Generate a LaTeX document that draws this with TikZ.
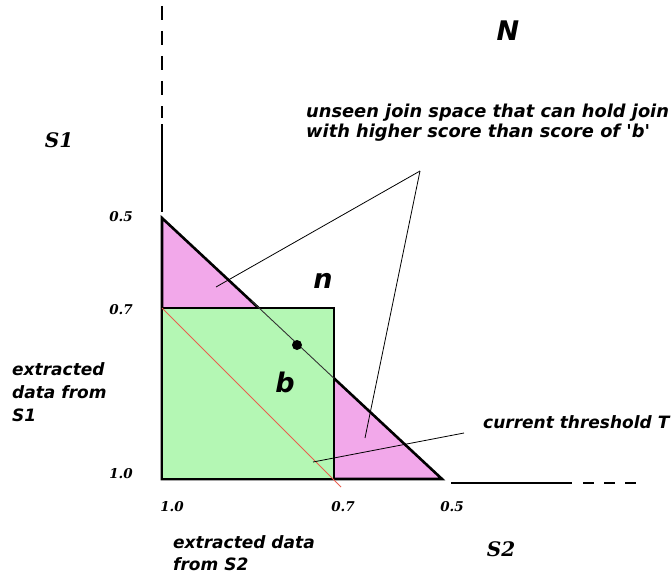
\documentclass[tikz,border=0pt]{standalone}
\usepackage{fontspec}
\setmainfont{DejaVu Sans}[Ligatures=TeXOff]
\newfontfamily\serifbi{DejaVu Serif}
\definecolor{pinkfill}{RGB}{242,168,234}
\definecolor{greenfill}{RGB}{180,247,180}
\definecolor{redline}{RGB}{232,96,80}
\tikzset{
  lbl/.style={font=\fontsize{17}{20}\selectfont\bfseries\itshape, inner sep=0pt, align=left, anchor=west},
  big/.style={font=\fontsize{27}{30}\selectfont\bfseries\itshape, inner sep=0pt},
  axlbl/.style={font=\fontsize{20}{22}\selectfont\serifbi\bfseries\itshape, inner sep=0pt},
  num/.style={font=\fontsize{13.5}{15}\selectfont\serifbi\bfseries\itshape, inner sep=0pt},
  callout/.style={line width=0.8pt, black},
}
\begin{document}
\begin{tikzpicture}[x=1pt,y=-1pt]
\useasboundingbox (0,0) rectangle (672,578);
% key points
\coordinate (T) at (162,218);
\coordinate (O) at (162,479);
\coordinate (R) at (442,479);
\coordinate (Q1) at (162,308);
\coordinate (Q2) at (334,308);
\coordinate (Q3) at (334,479);
\coordinate (Hin) at (251.6,301);
\coordinate (Hout) at (334,378.3);
\coordinate (RedEnd) at (341,487);
% axes
\draw[line width=1.3pt, dash pattern=on 14pt off 11pt] (162,6) coordinate (Vtop) -- (162,118) coordinate (Vmid);
\draw[line width=1.3pt] (162,124) coordinate (Vs) -- (162,212) coordinate (Ve);
\draw[line width=1.3pt] (451,483) coordinate (Hs) -- (572,483) coordinate (He);
\draw[line width=1.3pt, dash pattern=on 11pt off 10pt] (583,483) coordinate (Hd) -- (643,483) coordinate (Hdend);
% triangle
\fill[pinkfill] (T) -- (O) -- (R) -- cycle;
\draw[line width=2.6pt, line join=miter] (T) -- (O) -- (R) -- cycle;
% square
\fill[greenfill] (Q1) rectangle (Q3);
\draw[line width=1.1pt] (O) -- (Q1) -- (Q2) -- (Q3);
\draw[line width=1.1pt] (O) -- (Q3);
\draw[line width=0.9pt, black!80] (Hin) -- (Hout);
% red threshold line
\draw[redline, line width=0.9pt] (Q1) -- (RedEnd);
% dot
\fill (297,345) circle (5pt) coordinate (dot);
\node[big] (b) at (285,382) {b};
\node[big] (n) at (323,281) {n};
\node[big] (N) at (508,31) {N};
% axis labels
\node[axlbl] (S1) at (59,140) {S1};
\node[axlbl] (S2) at (501,549) {S2};
\node[num] (v05) at (121,217) {0.5};
\node[num] (v07) at (121,310) {0.7};
\node[num] (v10) at (121,474) {1.0};
\node[num] (h10) at (172,507) {1.0};
\node[num] (h07) at (343,507) {0.7};
\node[num] (h05) at (452,507) {0.5};
% texts
\node[lbl, font=\fontsize{17.8}{20}\selectfont\bfseries\itshape] (unseen) at (306,123) {unseen join space that can hold join\\with higher score than score of 'b'};
\node[lbl] (thr) at (483,422) {current threshold T};
\node[lbl, font=\fontsize{17}{23}\selectfont\bfseries\itshape] (ex1) at (12,392) {extracted\\data from\\S1};
\node[lbl, font=\fontsize{17}{22}\selectfont\bfseries\itshape] (ex2) at (173,553) {extracted data\\from S2};
% callouts
\coordinate (apex) at (420,171);
\coordinate (c1) at (216,287);
\coordinate (c2) at (365,438);
\coordinate (c3) at (313,462);
\coordinate (c4) at (464,433);
\draw[callout] (apex) -- (c1);
\draw[callout] (apex) -- (c2);
\draw[callout] (c3) -- (c4);
\end{tikzpicture}
\end{document}
